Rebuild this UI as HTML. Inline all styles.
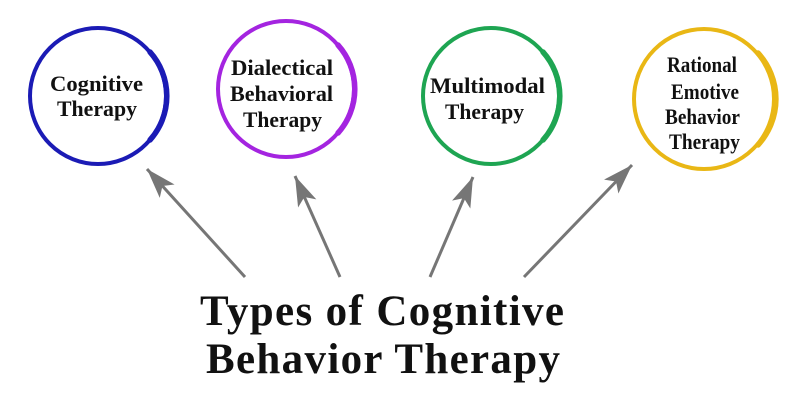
<!DOCTYPE html>
<html><head><meta charset="utf-8"><style>
html,body{margin:0;padding:0;background:#fff;}
svg{display:block;}
text{font-family:"Liberation Serif",serif;font-weight:bold;fill:#111;}
</style></head><body>
<svg width="800" height="407" viewBox="0 0 800 407" xmlns="http://www.w3.org/2000/svg">
<defs>
<marker id="ah" markerWidth="32" markerHeight="22" refX="30" refY="10" orient="auto" markerUnits="userSpaceOnUse">
<path d="M0,0 L30,10 L0,20 L7,10 Z" fill="#767676"/>
</marker>
</defs>
<rect width="800" height="407" fill="#fff"/>
<g fill="none" stroke-linecap="round">
<circle cx="98" cy="96" r="68" stroke="#1b1bb5" stroke-width="4"/>
<path d="M150 52 A66 66 0 0 1 150 140" stroke="#1b1bb5" stroke-width="5.5"/>
<circle cx="286" cy="89" r="68" stroke="#a424e0" stroke-width="4"/>
<path d="M338 45 A66 66 0 0 1 338 133" stroke="#a424e0" stroke-width="5.5"/>
<circle cx="491" cy="96" r="68" stroke="#1ea552" stroke-width="4"/>
<path d="M543 52 A66 66 0 0 1 543 140" stroke="#1ea552" stroke-width="5.5"/>
<circle cx="704" cy="99" r="70" stroke="#e9b715" stroke-width="4"/>
<path d="M758 53 A68 68 0 0 1 758 145" stroke="#e9b715" stroke-width="5.5"/>
</g>
<g stroke="#767676" stroke-width="3" marker-end="url(#ah)">
<line x1="245" y1="277" x2="147" y2="169"/>
<line x1="340" y1="277" x2="295" y2="176"/>
<line x1="430" y1="277" x2="473" y2="177"/>
<line x1="524" y1="277" x2="632" y2="165"/>
</g>
<g font-size="22">
<text x="50" y="91" textLength="93" lengthAdjust="spacingAndGlyphs">Cognitive</text>
<text x="57" y="116" textLength="80" lengthAdjust="spacingAndGlyphs">Therapy</text>
<text x="231" y="75" textLength="102" lengthAdjust="spacingAndGlyphs">Dialectical</text>
<text x="230" y="101" textLength="103" lengthAdjust="spacingAndGlyphs">Behavioral</text>
<text x="243" y="127" textLength="79" lengthAdjust="spacingAndGlyphs">Therapy</text>
<text x="430" y="93" textLength="115" lengthAdjust="spacingAndGlyphs">Multimodal</text>
<text x="445" y="119" textLength="79" lengthAdjust="spacingAndGlyphs">Therapy</text>
<text x="667" y="72" textLength="70" lengthAdjust="spacingAndGlyphs">Rational</text>
<text x="671" y="99" textLength="68" lengthAdjust="spacingAndGlyphs">Emotive</text>
<text x="665" y="124" textLength="75" lengthAdjust="spacingAndGlyphs">Behavior</text>
<text x="669" y="149" textLength="71" lengthAdjust="spacingAndGlyphs">Therapy</text>
</g>
<g font-size="43">
<text x="200" y="325" textLength="364" lengthAdjust="spacing">Types of Cognitive</text>
<text x="206" y="373" textLength="354" lengthAdjust="spacing">Behavior Therapy</text>
</g>
</svg>
</body></html>
